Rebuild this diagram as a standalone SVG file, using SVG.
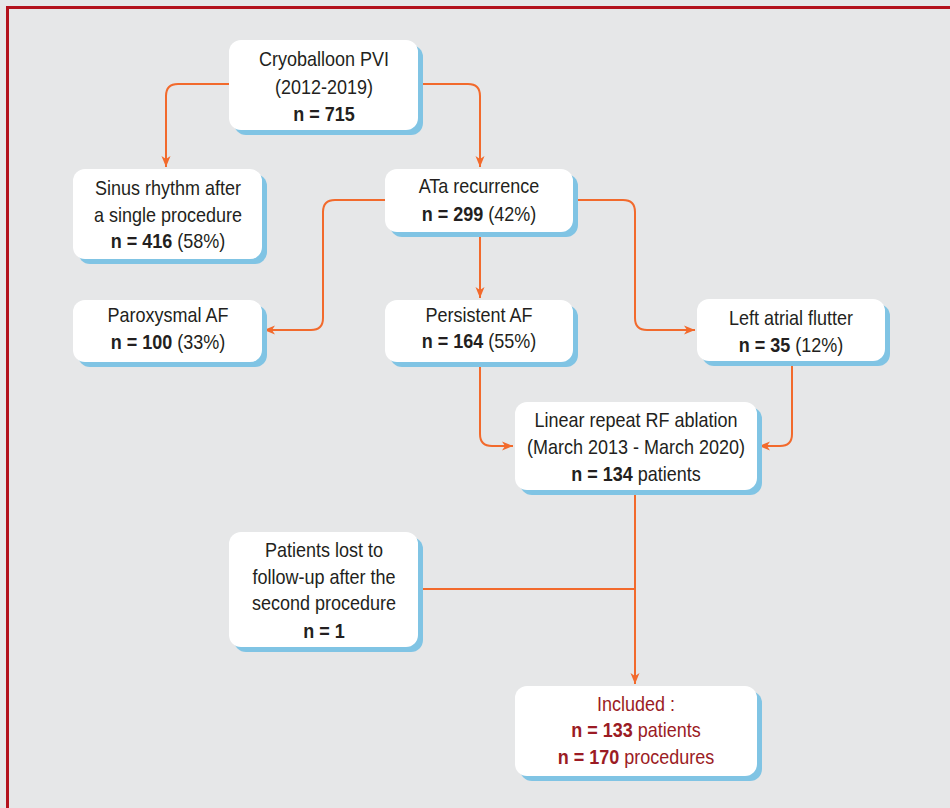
<svg xmlns="http://www.w3.org/2000/svg" width="950" height="808" viewBox="0 0 950 808">
<style>
.shadow{fill:#80c4e4}
.box{fill:#ffffff}
text{font-family:"Liberation Sans",Arial,sans-serif;font-size:20px;fill:#231f20;text-anchor:middle}
.b{font-weight:bold}
.red{fill:#9b1b24}
.conn{fill:none;stroke:#f26a2c;stroke-width:2}
</style>
<defs>
<marker id="ah" markerUnits="userSpaceOnUse" markerWidth="12" markerHeight="10" refX="11" refY="5" orient="auto">
<path d="M0,0.5 L11,5 L0,9.5 L3,5 z" fill="#f26a2c"/>
</marker>
</defs>
<rect x="0" y="0" width="950" height="808" fill="#e6e7e8"/>
<path d="M7.5,808 V7.5 H950" fill="none" stroke="#b3121d" stroke-width="3"/>

<g id="connectors">
<path class="conn" d="M229,84 H178 Q166,84 166,96 V167" marker-end="url(#ah)"/>
<path class="conn" d="M417,84 H468 Q480,84 480,96 V167" marker-end="url(#ah)"/>
<path class="conn" d="M385,200 H335 Q323,200 323,212 V318 Q323,330 311,330 H264" marker-end="url(#ah)"/>
<path class="conn" d="M480,232 V298" marker-end="url(#ah)"/>
<path class="conn" d="M573,200 H623 Q635,200 635,212 V318 Q635,330 647,330 H695" marker-end="url(#ah)"/>
<path class="conn" d="M480,362 V434 Q480,446 492,446 H513" marker-end="url(#ah)"/>
<path class="conn" d="M792,361 V434 Q792,446 780,446 H759" marker-end="url(#ah)"/>
<path class="conn" d="M635,490 V684" marker-end="url(#ah)"/>
<path class="conn" d="M418,589 H635"/>
</g>

<g id="cryoballoon">
<rect class="shadow" x="234" y="45" width="189" height="90" rx="12"/>
<rect class="box" x="229" y="40" width="189" height="90" rx="12"/>
<g transform="translate(324 0) scale(0.9 1)">
<text x="0" y="66">Cryoballoon PVI</text>
<text x="0" y="94">(2012-2019)</text>
<text x="0" y="121" class="b">n = 715</text>
</g>
</g>

<g id="sinus">
<rect class="shadow" x="78" y="174" width="189" height="90" rx="12"/>
<rect class="box" x="73" y="169" width="189" height="90" rx="12"/>
<g transform="translate(168 0) scale(0.9 1)">
<text x="0" y="195">Sinus rhythm after</text>
<text x="0" y="222">a single procedure</text>
<text x="0" y="248"><tspan class="b">n = 416</tspan> (58%)</text>
</g>
</g>

<g id="ata">
<rect class="shadow" x="390" y="174" width="188" height="63" rx="12"/>
<rect class="box" x="385" y="169" width="188" height="63" rx="12"/>
<g transform="translate(479 0) scale(0.9 1)">
<text x="0" y="193">ATa recurrence</text>
<text x="0" y="221"><tspan class="b">n = 299</tspan> (42%)</text>
</g>
</g>

<g id="paroxysmal">
<rect class="shadow" x="78" y="305" width="189" height="62" rx="12"/>
<rect class="box" x="73" y="300" width="189" height="62" rx="12"/>
<g transform="translate(168 0) scale(0.9 1)">
<text x="0" y="322">Paroxysmal AF</text>
<text x="0" y="349"><tspan class="b">n = 100</tspan> (33%)</text>
</g>
</g>

<g id="persistent">
<rect class="shadow" x="390" y="305" width="188" height="62" rx="12"/>
<rect class="box" x="385" y="300" width="188" height="62" rx="12"/>
<g transform="translate(479 0) scale(0.9 1)">
<text x="0" y="322">Persistent AF</text>
<text x="0" y="348"><tspan class="b">n = 164</tspan> (55%)</text>
</g>
</g>

<g id="flutter">
<rect class="shadow" x="702" y="304" width="188" height="62" rx="12"/>
<rect class="box" x="697" y="299" width="188" height="62" rx="12"/>
<g transform="translate(791 0) scale(0.9 1)">
<text x="0" y="325">Left atrial flutter</text>
<text x="0" y="352"><tspan class="b">n = 35</tspan> (12%)</text>
</g>
</g>

<g id="linear">
<rect class="shadow" x="520" y="407" width="242" height="88" rx="12"/>
<rect class="box" x="515" y="402" width="242" height="88" rx="12"/>
<g transform="translate(636 0) scale(0.9 1)">
<text x="0" y="427">Linear repeat RF ablation</text>
<text x="0" y="454">(March 2013 - March 2020)</text>
<text x="0" y="481"><tspan class="b">n = 134</tspan> patients</text>
</g>
</g>

<g id="lost">
<rect class="shadow" x="234" y="537" width="189" height="115" rx="12"/>
<rect class="box" x="229" y="532" width="189" height="115" rx="12"/>
<g transform="translate(324 0) scale(0.9 1)">
<text x="0" y="557">Patients lost to</text>
<text x="0" y="584">follow-up after the</text>
<text x="0" y="610">second procedure</text>
<text x="0" y="638" class="b">n = 1</text>
</g>
</g>

<g id="included">
<rect class="shadow" x="520" y="691" width="242" height="90" rx="12"/>
<rect class="box" x="515" y="686" width="242" height="90" rx="12"/>
<g transform="translate(636 0) scale(0.9 1)">
<text x="0" y="711" class="red">Included :</text>
<text x="0" y="737" class="red"><tspan class="b">n = 133</tspan> patients</text>
<text x="0" y="764" class="red"><tspan class="b">n = 170</tspan> procedures</text>
</g>
</g>
</svg>
